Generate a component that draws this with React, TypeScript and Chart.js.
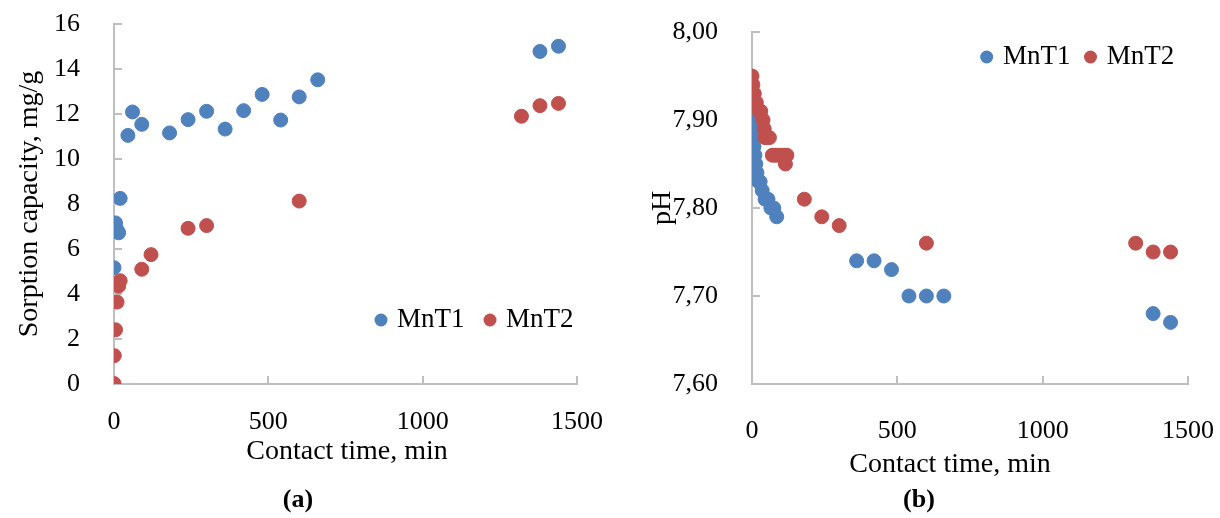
import React, { useEffect, useRef } from "react";
import { Chart, registerables } from "chart.js";

Chart.register(...registerables);

// ---------- Data: (a) sorption capacity ----------
const timeA1 = [0, 5, 10, 15, 20, 45, 60, 90, 180, 240, 300, 360, 420, 480, 540, 600, 660, 1380, 1440];
const capA1 = [5.17, 7.16, 6.85, 6.72, 8.25, 11.05, 12.09, 11.54, 11.16, 11.75, 12.12, 11.33, 12.15, 12.87, 11.73, 12.76, 13.52, 14.78, 15.01];
const timeA2 = [0, 1, 5, 10, 15, 20, 90, 120, 240, 300, 600, 1320, 1380, 1440];
const capA2 = [0.02, 1.26, 2.41, 3.64, 4.35, 4.59, 5.1, 5.75, 6.92, 7.04, 8.13, 11.9, 12.37, 12.47];

// ---------- Data: (b) pH ----------
const timeB1 = [0, 1, 3, 5, 7, 10, 13, 17, 22, 28, 35, 45, 55, 65, 75, 85, 360, 420, 480, 540, 600, 660, 1380, 1440];
const phB1 = [7.91, 7.9, 7.89, 7.88, 7.87, 7.86, 7.85, 7.84, 7.83, 7.83, 7.82, 7.81, 7.81, 7.8, 7.8, 7.79, 7.74, 7.74, 7.73, 7.7, 7.7, 7.7, 7.68, 7.67];
const timeB2 = [0, 3, 8, 15, 25, 30, 38, 42, 45, 50, 60, 70, 80, 90, 100, 110, 120, 115, 180, 240, 300, 600, 1320, 1380, 1440];
const phB2 = [7.95, 7.94, 7.93, 7.92, 7.91, 7.91, 7.9, 7.89, 7.88, 7.88, 7.88, 7.86, 7.86, 7.86, 7.86, 7.86, 7.86, 7.85, 7.81, 7.79, 7.78, 7.76, 7.76, 7.75, 7.75];

const seriesNames = ["MnT1", "MnT2"];
const xTitle = "Contact time, min";
const xTicksMin = 0;
const xTicksMax = 1500;
const xTickStep = 500;
const yA = { min: 0, max: 16, step: 2 };
const yB = { min: 7.6, max: 8.0, step: 0.1 };

const BLUE = "#4F81BD";
const RED = "#C0504D";
const AXIS = "#BFBFBF";
const FONT = "'Liberation Serif', 'Times New Roman', serif";

const zip = (xs: number[], ys: number[]) => xs.map((x, i) => ({ x, y: ys[i] }));

const insideTicks = {
  id: "insideTicks",
  beforeDatasetsDraw(chart: any, _args: any, opts: any) {
    const { ctx, chartArea, scales } = chart;
    ctx.save();
    ctx.strokeStyle = opts.color;
    ctx.lineWidth = opts.width;
    const len = opts.length;
    scales.y.ticks.forEach((t: any) => {
      const py = Math.round(scales.y.getPixelForValue(t.value));
      ctx.beginPath();
      ctx.moveTo(chartArea.left, py);
      ctx.lineTo(chartArea.left + len, py);
      ctx.stroke();
    });
    scales.x.ticks.forEach((t: any) => {
      const px = Math.round(scales.x.getPixelForValue(t.value));
      ctx.beginPath();
      ctx.moveTo(px, chartArea.bottom);
      ctx.lineTo(px, chartArea.bottom - len);
      ctx.stroke();
    });
    ctx.restore();
  },
};

const innerLegend = {
  id: "innerLegend",
  afterDatasetsDraw(chart: any, _args: any, opts: any) {
    const { ctx } = chart;
    ctx.save();
    ctx.font = opts.font;
    ctx.textBaseline = "middle";
    ctx.textAlign = "left";
    let x = opts.x;
    const y = opts.y;
    const r = opts.radius;
    chart.data.datasets.forEach((ds: any) => {
      ctx.beginPath();
      ctx.fillStyle = ds.backgroundColor;
      ctx.arc(x + r, y, r, 0, Math.PI * 2);
      ctx.fill();
      x += 2 * r + opts.textGap;
      ctx.fillStyle = "#000";
      ctx.fillText(ds.label, x, y);
      x += ctx.measureText(ds.label).width + opts.itemGap;
    });
    ctx.restore();
  },
};

// x-axis title and panel caption, placed under the plot
const captions = {
  id: "captions",
  afterDraw(chart: any, _args: any, opts: any) {
    const { ctx } = chart;
    ctx.save();
    ctx.fillStyle = "#000";
    ctx.textAlign = "center";
    ctx.textBaseline = "middle";
    ctx.font = `28px ${FONT}`;
    ctx.fillText(opts.xTitle, opts.xTitleX, opts.xTitleY);
    ctx.font = `bold 26px ${FONT}`;
    ctx.fillText(opts.panel, opts.panelX, opts.panelY);
    ctx.restore();
  },
};

function makeConfig(p: {
  d1: { x: number; y: number }[];
  d2: { x: number; y: number }[];
  yRange: { min: number; max: number; step: number };
  yTitle: string;
  yFmt: (v: number) => string;
  panel: string;
  padTop: number;
  padRight: number;
  yWidth: number;
  yTitlePad: number;
  xHeight: number;
  xTickPad: number;
  xTitlePos: { x: number; y: number };
  panelPos: { x: number; y: number };
  legend: { x: number; y: number; textGap: number; itemGap: number };
}): any {
  const pointCommon = { pointRadius: 7, pointBorderWidth: 1, showLine: false };
  return {
    type: "scatter",
    data: {
      datasets: [
        { label: seriesNames[0], data: p.d1, backgroundColor: BLUE, borderColor: BLUE, order: 1, ...pointCommon },
        { label: seriesNames[1], data: p.d2, backgroundColor: RED, borderColor: RED, order: 0, ...pointCommon },
      ],
    },
    options: {
      animation: false,
      responsive: false,
      events: [],
      layout: { padding: { top: p.padTop, right: p.padRight, left: 0, bottom: 0 } },
      plugins: {
        legend: { display: false },
        tooltip: { enabled: false },
        title: { display: false },
        insideTicks: { color: AXIS, width: 2, length: 8 },
        innerLegend: {
          font: `27px ${FONT}`,
          radius: 6.5,
          x: p.legend.x,
          y: p.legend.y,
          textGap: p.legend.textGap,
          itemGap: p.legend.itemGap,
        },
        captions: {
          xTitle,
          xTitleX: p.xTitlePos.x,
          xTitleY: p.xTitlePos.y,
          panel: p.panel,
          panelX: p.panelPos.x,
          panelY: p.panelPos.y,
        },
      },
      scales: {
        x: {
          type: "linear",
          min: xTicksMin,
          max: xTicksMax,
          grid: { display: false },
          border: { display: true, color: AXIS, width: 2 },
          ticks: {
            stepSize: xTickStep,
            padding: p.xTickPad,
            color: "#000",
            font: { family: FONT, size: 26, lineHeight: 1.2 },
            maxRotation: 0,
            callback: (v: any) => String(v),
          },
          title: { display: false },
          afterFit(scale: any) {
            scale.height = p.xHeight;
            scale.paddingLeft = 0;
            scale.paddingRight = 0;
          },
        },
        y: {
          type: "linear",
          min: p.yRange.min,
          max: p.yRange.max,
          grid: { display: false },
          border: { display: true, color: AXIS, width: 2 },
          ticks: {
            stepSize: p.yRange.step,
            padding: 26,
            color: "#000",
            font: { family: FONT, size: 26, lineHeight: 1.2 },
            callback: (v: any) => p.yFmt(Number(v)),
          },
          title: {
            display: true,
            text: p.yTitle,
            color: "#000",
            font: { family: FONT, size: 28, lineHeight: 1.2 },
            padding: { top: p.yTitlePad, bottom: 0 },
          },
          afterFit(scale: any) {
            scale.width = p.yWidth;
            scale.paddingTop = 0;
            scale.paddingBottom = 0;
          },
        },
      },
    },
    plugins: [insideTicks, innerLegend, captions],
  };
}

export default function App() {
  const refA = useRef<HTMLCanvasElement | null>(null);
  const refB = useRef<HTMLCanvasElement | null>(null);

  useEffect(() => {
    const cA = new Chart(
      refA.current as HTMLCanvasElement,
      makeConfig({
        d1: zip(timeA1, capA1),
        d2: zip(timeA2, capA2),
        yRange: yA,
        yTitle: "Sorption capacity, mg/g",
        yFmt: (v) => String(Math.round(v)),
        panel: "(a)",
        padTop: 24,
        padRight: 33,
        yWidth: 114,
        yTitlePad: 13,
        xHeight: 134,
        xTickPad: 14.4,
        xTitlePos: { x: 347, y: 452 },
        panelPos: { x: 298, y: 500 },
        legend: { x: 374.5, y: 320, textGap: 9.5, itemGap: 19 },
      })
    );
    const cB = new Chart(
      refB.current as HTMLCanvasElement,
      makeConfig({
        d1: zip(timeB1, phB1),
        d2: zip(timeB2, phB2),
        yRange: yB,
        yTitle: "pH",
        yFmt: (v) => v.toFixed(2).replace(".", ","),
        panel: "(b)",
        padTop: 32,
        padRight: 32,
        yWidth: 142,
        yTitlePad: 36,
        xHeight: 134,
        xTickPad: 23.4,
        xTitlePos: { x: 340, y: 465 },
        panelPos: { x: 309, y: 500 },
        legend: { x: 370.2, y: 57, textGap: 9.8, itemGap: 13.5 },
      })
    );
    return () => {
      cA.destroy();
      cB.destroy();
    };
  }, []);

  return (
    <div style={{ position: "fixed", left: 0, top: 0, width: 1220, height: 518, background: "#fff" }}>
      <canvas ref={refA} width={610} height={518} style={{ position: "absolute", left: 0, top: 0 }} />
      <canvas ref={refB} width={610} height={518} style={{ position: "absolute", left: 610, top: 0 }} />
    </div>
  );
}
